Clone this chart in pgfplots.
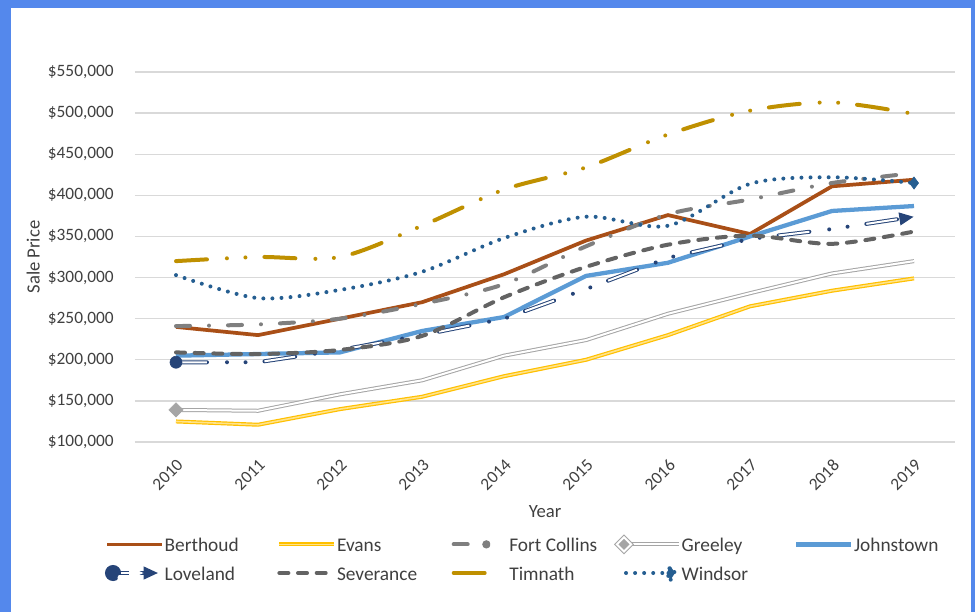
\documentclass[border=0pt]{standalone}
\usepackage{fontspec}
\setmainfont{Carlito}
\usepackage{pgfplots}
\usepackage{pgfplotstable}
\pgfplotsset{compat=1.18}
\usetikzlibrary{arrows.meta}

\definecolor{frameblue}{RGB}{84,136,236}
\definecolor{gridgray}{HTML}{D9D9D9}
\definecolor{txt}{HTML}{404040}
\definecolor{berthoud}{HTML}{A94F17}
\definecolor{evans}{HTML}{FFC000}
\definecolor{evanslight}{HTML}{FFE38A}
\definecolor{fortcollins}{HTML}{7F7F7F}
\definecolor{greeley}{HTML}{A5A5A5}
\definecolor{johnstown}{HTML}{5B9BD5}
\definecolor{loveland}{HTML}{264478}
\definecolor{severance}{HTML}{636363}
\definecolor{timnath}{HTML}{BF9000}
\definecolor{windsor}{HTML}{255E91}

% median sale price by town, 2010-2019 (x = year - 2010)
\pgfplotstableread{
x Berthoud Evans FortCollins Greeley Johnstown Loveland Severance Timnath Windsor
0 240000 125000 241000 139000 205000 197000 209000 320000 303000
1 230000 121000 243000 138000 207000 197000 207000 325000 275000
2 250000 140000 250000 158000 209000 212000 212000 325000 285000
3 270000 155000 268000 175000 235000 230000 229000 363000 307000
4 304000 180000 292000 205000 252000 250000 276000 407000 348000
5 345000 200000 338000 224000 302000 286000 313000 434000 374000
6 376000 230000 377000 256000 318000 324000 340000 474000 363000
7 353000 265000 395000 281000 350000 347000 351000 503000 414000
8 411000 284000 415000 305000 381000 359000 341000 513000 422000
9 419000 299000 427000 320000 387000 374000 356000 499000 415000
}\prices

\tikzset{
  timpat/.style={dash pattern=on 23.25pt off 15pt on 0pt off 13.9pt on 0pt off 14.25pt},
}
\newcommand{\entry}[1]{\makebox[88pt][l]{\strut\hspace{2pt}#1}}
% fixed-size box for every legend symbol
\newcommand{\legbox}{\pgfpathrectangle{\pgfpoint{0pt}{-6pt}}{\pgfpoint{41.25pt}{12pt}}\pgfusepath{use as bounding box}}

\begin{document}
\begin{tikzpicture}[x=0.75pt,y=0.75pt]
\fill[frameblue] (-135,-170) rectangle (840,442);
\fill[white] (-124,-170) rectangle (836,434);
\useasboundingbox (-135,-170) rectangle (840,442);
\begin{axis}[
    at={(0,0)}, anchor=south west,
    scale only axis, width=615pt, height=277.5pt,
    xmin=-0.5, xmax=9.5, ymin=100000, ymax=550000,
    enlargelimits=false, scaled y ticks=false,
    axis line style={draw=none}, tick style={draw=none},
    ymajorgrids, grid style={gridgray, line width=1pt},
    xtick={0,...,9},
    xticklabels={2010,2011,2012,2013,2014,2015,2016,2017,2018,2019},
    ytick={100000,150000,200000,250000,300000,350000,400000,450000,500000,550000},
    yticklabels={\$100{,}000,\$150{,}000,\$200{,}000,\$250{,}000,\$300{,}000,\$350{,}000,\$400{,}000,\$450{,}000,\$500{,}000,\$550{,}000},
    /pgf/number format/assume math mode=true,
    ticklabel style={font=\fontsize{13}{15.6}\selectfont, text=txt, inner sep=0pt},
    yticklabel shift=15.75pt,
    xticklabel style={rotate=45, anchor=north east},
    xticklabel shift=12pt,
    xlabel={Year}, ylabel={Sale Price},
    label style={font=\fontsize{14}{16.8}\selectfont, text=txt},
    xlabel style={at={(axis description cs:0.5,-0.189)}, anchor=center},
    ylabel style={at={(axis description cs:-0.124,0.5)}, anchor=center},
    legend columns=5,
    legend style={at={(axis description cs:-0.0341,-0.252)}, anchor=north west,
      draw=none, fill=none, inner sep=0pt, outer sep=0pt,
      font=\fontsize{14.5}{17.4}\selectfont, text=txt,
      column sep=0pt, row sep=7.8pt,
      nodes={inner sep=0pt, outer sep=0pt}},
    legend cell align=left,
    legend image code/.code={
      \legbox
      \draw[#1] (0pt,0pt) -- (41.25pt,0pt);},
  ]
  \addplot[berthoud, line width=2.8pt] table[x=x, y=Berthoud] {\prices};
  \addlegendentry{\entry{Berthoud}}
  \addplot[evans, line width=0.9pt, double=evanslight, double distance=1.2pt] table[x=x, y=Evans] {\prices};
  \addlegendentry{\entry{Evans}}
  \addplot[fortcollins, line width=3pt, line cap=round, smooth, tension=0.5,
    dash pattern=on 10.5pt off 14.25pt on 0pt off 14.25pt,
    legend image code/.code={
      \legbox
      \draw[fortcollins, line width=3pt, line cap=round] (1.5pt,0pt) -- (12pt,0pt);
      \fill[fortcollins] (26pt,0pt) circle (1.5pt);}]
    table[x=x, y=FortCollins] {\prices};
  \addlegendentry{\entry{Fort Collins}}
  \addplot[greeley, line width=0.75pt, double=white, double distance=1.5pt,
    legend image code/.code={
      \legbox
      \draw[greeley, line width=0.75pt, double=white, double distance=1.5pt] (3pt,0pt) -- (41.25pt,0pt);
      \fill[greeley, rotate=45] (-3.8pt,-3.8pt) rectangle (3.8pt,3.8pt);}]
    table[x=x, y=Greeley] {\prices};
  \addlegendentry{\entry{Greeley}}
  \addplot[forget plot, only marks, mark=square*, mark indices={1}, mark size=3.8pt,
    mark options={rotate=45, fill=greeley, draw=greeley}] table[x=x, y=Greeley] {\prices};
  \addplot[johnstown, line width=3.2pt] table[x=x, y=Johnstown] {\prices};
  \addlegendentry{\entry{Johnstown}}
  % Loveland: navy dash-dot-dot line, hollowed dashes, circle start and arrow end
  \addplot[loveland, line width=3pt, line cap=round, timpat,
    -{Triangle[length=11pt, width=9pt]},
    legend image code/.code={
      \legbox
      \draw[loveland, line width=3pt, solid, -{Triangle[length=11pt, width=9pt]}] (4.5pt,0pt) -- (38.5pt,0pt);
      \draw[white, line width=1.5pt, solid] (4.5pt,0pt) -- (27.5pt,0pt);
      \fill[loveland] (4.5pt,0pt) circle (4.5pt);}]
    table[x=x, y=Loveland] {\prices};
  \addlegendentry{\entry{Loveland}}
  \addplot[forget plot, white, line width=1.5pt, line cap=butt,
    dash pattern=on 23.25pt off 43.15pt, shorten >=11pt,
    mark=*, mark indices={1}, mark size=4.5pt,
    mark options={solid, fill=loveland, draw=loveland, line width=0.5pt}]
    table[x=x, y=Loveland] {\prices};
  \addplot[severance, line width=3pt, line cap=round, smooth, tension=0.5,
    dash pattern=on 6.75pt off 7.25pt] table[x=x, y=Severance] {\prices};
  \addlegendentry{\entry{Severance}}
  \addplot[timnath, line width=3pt, line cap=round, smooth, tension=0.5, timpat,
    legend image code/.code={
      \legbox
      \draw[timnath, line width=3pt, line cap=round] (1.5pt,0pt) -- (25.5pt,0pt);}]
    table[x=x, y=Timnath] {\prices};
  \addlegendentry{\entry{Timnath}}
  \addplot[windsor, line width=3pt, line cap=round, smooth, tension=0.5,
    dash pattern=on 0pt off 6.8pt,
    mark=diamond*, mark indices={10}, mark size=4.5pt,
    mark options={solid, fill=windsor, draw=windsor, line width=0.5pt},
    legend image code/.code={
      \legbox
      \draw[windsor, line width=3pt, line cap=round, dash pattern=on 0pt off 6.8pt] (1.5pt,0pt) -- (29pt,0pt);
      \fill[windsor] (35pt,-5pt) -- (38.2pt,0pt) -- (35pt,5pt) -- (31.8pt,0pt) -- cycle;}]
    table[x=x, y=Windsor] {\prices};
  \addlegendentry{\entry{Windsor}}
\end{axis}
\end{tikzpicture}
\end{document}
